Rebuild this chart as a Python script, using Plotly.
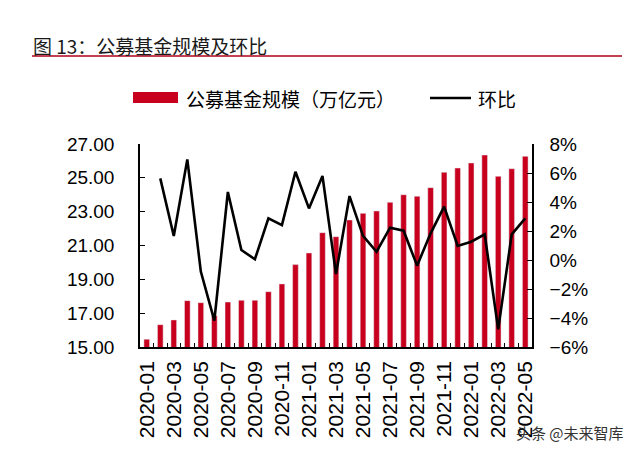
import plotly.graph_objects as go

# months 2020-01 .. 2022-05
months = [f"{y}-{m:02d}" for y in (2020, 2021, 2022) for m in range(1, 13)][:29]

# 公募基金规模（万亿元）
scale = [15.46, 16.32, 16.60, 17.74, 17.62, 16.85, 17.66, 17.76, 17.76, 18.27,
         18.73, 19.87, 20.56, 21.76, 21.52, 22.51, 22.90, 23.04, 23.55, 24.00,
         23.91, 24.42, 25.33, 25.58, 25.88, 26.35, 25.09, 25.54, 26.27]

# 环比 (%), first month has no value
mom = [None, 5.63, 1.66, 6.94, -0.80, -4.18, 4.69, 0.69, 0.05, 2.87,
       2.41, 6.09, 3.56, 5.79, -0.97, 4.41, 1.66, 0.57, 2.23, 2.02,
       -0.39, 1.84, 3.68, 0.97, 1.26, 1.77, -4.78, 1.77, 2.87]

tick_text = [m if i % 2 == 0 else "" for i, m in enumerate(months)]

RED = "#C8001E"
CJK = "Noto Sans CJK SC"
NUM = "Liberation Sans, Arial"

# page body has an 8px margin, so the figure is 16px smaller than the window
OFF = 8
W, H = 640 - 2 * OFF, 452 - 2 * OFF
L, R, T, B = 132, 100, 136, 97


def px(x):
    # x given in window pixels
    return (x - OFF - L) / (W - L - R)


def py(y):
    return (H - B - (y - OFF)) / (H - T - B)


fig = go.Figure()
fig.add_trace(go.Bar(x=months, y=scale, marker_color=RED, width=0.42,
                     name="公募基金规模（万亿元）"))
fig.add_trace(go.Scatter(x=months, y=[None if v is None else v / 100 for v in mom],
                         mode="lines", line=dict(color="black", width=2.6),
                         name="环比", yaxis="y2"))

fig.update_layout(
    width=W, height=H,
    margin=dict(l=L, r=R, t=T, b=B),
    paper_bgcolor="white", plot_bgcolor="white",
    showlegend=False,
    xaxis=dict(type="category", tickmode="array", tickvals=months, ticktext=tick_text,
               tickangle=-90, tickson="boundaries", ticks="inside", ticklen=4,
               tickcolor="black", showline=True, linecolor="black", linewidth=1.5,
               ticklabelstandoff=4, automargin=False,
               tickfont=dict(family=NUM, size=21, color="black"), showgrid=False),
    yaxis=dict(range=[15, 27], tickvals=[15, 17, 19, 21, 23, 25, 27],
               tickformat=".2f", ticks="inside", ticklen=5, tickcolor="black",
               showline=True, linecolor="black", linewidth=1.5, showgrid=False,
               zeroline=False, ticklabelstandoff=20, automargin=False,
               tickfont=dict(family=NUM, size=19, color="black")),
    yaxis2=dict(range=[-0.06, 0.08], dtick=0.02, tickformat=".0%", overlaying="y",
                side="right", ticks="inside", ticklen=5, tickcolor="black",
                showline=True, linecolor="black", linewidth=1.5, showgrid=False,
                zeroline=False, ticklabelstandoff=12, automargin=False,
                tickfont=dict(family=NUM, size=19, color="black")),
)

shapes = [
    # title underline
    dict(type="line", xref="paper", yref="paper", x0=px(32), x1=px(622),
         y0=py(56), y1=py(56), line=dict(color="#B0001A", width=1.5)),
    # legend swatches
    dict(type="rect", xref="paper", yref="paper", x0=px(133), x1=px(178),
         y0=py(103), y1=py(92), fillcolor=RED, line=dict(width=0)),
    dict(type="line", xref="paper", yref="paper", x0=px(430), x1=px(471),
         y0=py(98), y1=py(98), line=dict(color="black", width=2.5)),
]
fig.update_layout(shapes=shapes)

annos = [
    dict(text="图 13：公募基金规模及环比", x=px(31), y=py(45), xanchor="left",
         font=dict(family=CJK, size=19, color="#1a1a1a")),
    dict(text="公募基金规模（万亿元）", x=px(184), y=py(98), xanchor="left",
         font=dict(family=CJK, size=19, color="black")),
    dict(text="环比", x=px(476), y=py(98), xanchor="left",
         font=dict(family=CJK, size=19, color="black")),
    dict(text="头条 @未来智库", x=px(626), y=py(432), xanchor="right",
         font=dict(family=CJK, size=15, color="#333")),
]
for a in annos:
    fig.add_annotation(xref="paper", yref="paper", yanchor="middle",
                       showarrow=False, **a)

fig.write_html("out.html")
